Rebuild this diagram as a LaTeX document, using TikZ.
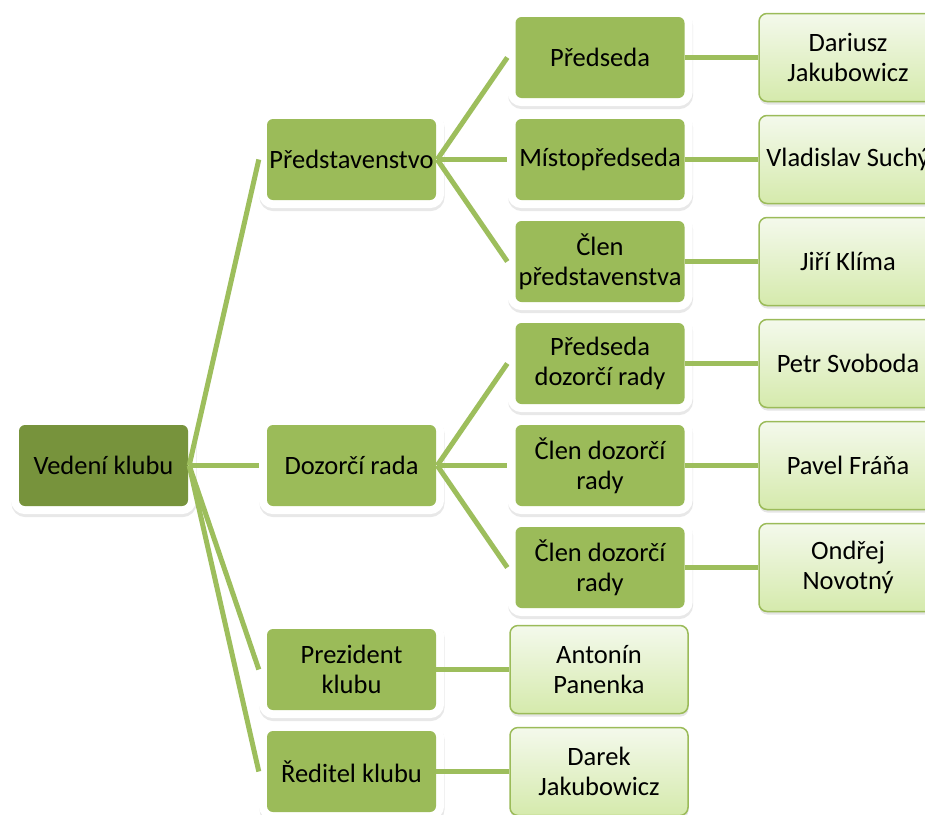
\documentclass[tikz,border=0pt]{standalone}
\usepackage{fontspec}
\setmainfont{Carlito}
\definecolor{dkg}{HTML}{77933C}
\definecolor{mdg}{HTML}{9BBB59}
\definecolor{lnk}{HTML}{9DBE5C}
\definecolor{lftop}{HTML}{F4F9EC}
\definecolor{lfbot}{HTML}{D5EAAC}
\tikzset{
  txt/.style={font=\fontsize{26.5}{30}\selectfont, align=center, text=black, inner sep=0pt},
  halo/.style={txt, rounded corners=6pt, minimum width=169pt, minimum height=81pt,
     preaction={draw=black, draw opacity=0.09, line width=16pt, transform canvas={shift={(0.5pt,-3pt)}}},
     preaction={draw=white, line width=16pt}},
  rootbox/.style={halo, fill=dkg},
  midbox/.style={halo, fill=mdg},
  leafbox/.style={txt, rounded corners=8pt, minimum width=178pt, minimum height=88pt,
     preaction={fill=black, fill opacity=0.10, transform canvas={shift={(0.5pt,-3pt)}}},
     top color=lftop, bottom color=lfbot, draw=mdg, line width=1.5pt},
  link/.style={draw=lnk, line width=5pt}
}
\begin{document}
\begin{tikzpicture}[x=1pt,y=-1pt]
\useasboundingbox (0,0) rectangle (925,814);
\clip (0,0) rectangle (925,814);
\fill[white] (0,0) rectangle (925,814);
% level 1
\node[rootbox] (r) at (103.5,465.5) {Vedení klubu};
% level 2
\node[midbox] (a) at (351.5,159.5) {Představenstvo};
\node[midbox] (b) at (351.5,465.5) {Dozorčí rada};
\node[midbox] (c) at (351.5,669.5) {Prezident\\klubu};
\node[midbox] (d) at (351.5,771.5) {Ředitel klubu};
% level 3
\node[midbox] (a1) at (600,57.5) {Předseda};
\node[midbox] (a2) at (600,159.5) {Místopředseda};
\node[midbox] (a3) at (600,261.5) {Člen\\představenstva};
\node[midbox] (b1) at (600,363.5) {Předseda\\dozorčí rady};
\node[midbox] (b2) at (600,465.5) {Člen dozorčí\\rady};
\node[midbox] (b3) at (600,567.5) {Člen dozorčí\\rady};
% leaves
\node[leafbox] (la1) at (848,57.5) {Dariusz\\Jakubowicz};
\node[leafbox] (la2) at (848,159.5) {Vladislav Suchý};
\node[leafbox] (la3) at (848,261.5) {Jiří Klíma};
\node[leafbox] (lb1) at (848,363.5) {Petr Svoboda};
\node[leafbox] (lb2) at (848,465.5) {Pavel Fráňa};
\node[leafbox] (lb3) at (848,567.5) {Ondřej\\Novotný};
\node[leafbox] (lc) at (599,669.5) {Antonín\\Panenka};
\node[leafbox] (ld) at (599,771.5) {Darek\\Jakubowicz};
% connectors
\foreach \ch in {a,b,c,d}
  \draw[link] ([xshift=1pt]r.east) -- ([xshift=-8pt]\ch.west);
\foreach \ch in {a1,a2,a3}
  \draw[link] ([xshift=1pt]a.east) -- ([xshift=-8pt]\ch.west);
\foreach \ch in {b1,b2,b3}
  \draw[link] ([xshift=1pt]b.east) -- ([xshift=-8pt]\ch.west);
\draw[link] (a1.east) -- (la1.west);
\draw[link] (a2.east) -- (la2.west);
\draw[link] (a3.east) -- (la3.west);
\draw[link] (b1.east) -- (lb1.west);
\draw[link] (b2.east) -- (lb2.west);
\draw[link] (b3.east) -- (lb3.west);
\draw[link] (c.east) -- (lc.west);
\draw[link] (d.east) -- (ld.west);
\end{tikzpicture}
\end{document}
